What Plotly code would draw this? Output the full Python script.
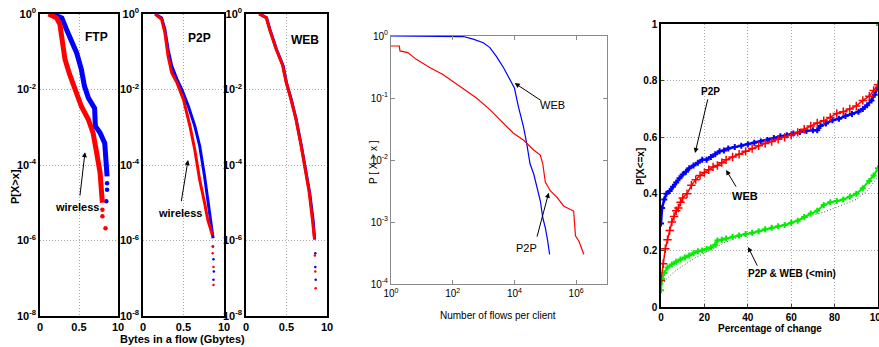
import plotly.graph_objects as go

W, H = 879, 347

# ---------------- data ----------------
# Panels 1-3: CCDF of bytes per flow (Gbytes), wired (blue) vs wireless (red)
ftp_wired_x = [0.15, 0.28, 0.34, 0.40, 0.47, 0.53, 0.57, 0.62, 0.70, 0.71, 0.77, 0.83, 0.85, 0.86]
ftp_wired_y = [1.0, 0.79, 0.39, 0.19, 0.093, 0.034, 0.0123, 0.006, 0.0032, 0.00107, 7.1e-4, 3.8e-4, 9e-5, 5e-5]
ftp_wired_tail_x = [0.86, 0.86, 0.85]
ftp_wired_tail_y = [3.3e-5, 2.2e-5, 1.1e-5]
ftp_wless_x = [0.11, 0.21, 0.255, 0.277, 0.32, 0.38, 0.45, 0.53, 0.62, 0.68, 0.72, 0.77, 0.79, 0.80]
ftp_wless_y = [1.0, 0.79, 0.54, 0.21, 0.063, 0.025, 0.01, 0.0036, 0.0016, 7.1e-4, 2.5e-4, 6.3e-5, 1.8e-5, 1e-5]
ftp_wless_tail_x = [0.80, 0.80, 0.84]
ftp_wless_tail_y = [6.5e-6, 4.4e-6, 2.1e-6]

p2p_wired_x = [0.15, 0.23, 0.27, 0.31, 0.355, 0.42, 0.48, 0.56, 0.64, 0.70, 0.76, 0.80, 0.845, 0.865]
p2p_wired_y = [1.0, 0.79, 0.39, 0.115, 0.042, 0.0186, 0.01, 0.0036, 0.00107, 3.2e-4, 5e-5, 1.2e-5, 2.3e-6, 1.15e-6]
p2p_wired_tail_x = [0.865, 0.87, 0.875, 0.87]
p2p_wired_tail_y = [6.9e-7, 3.2e-7, 1.5e-7, 9.1e-8]
p2p_wless_x = [0.15, 0.23, 0.27, 0.31, 0.355, 0.42, 0.50, 0.58, 0.64, 0.70, 0.76, 0.80, 0.857]
p2p_wless_y = [1.0, 0.72, 0.32, 0.076, 0.0275, 0.015, 0.0054, 0.00107, 2.5e-4, 4e-5, 1e-5, 3.5e-6, 1.4e-6]
p2p_wless_tail_x = [0.86, 0.86, 0.87, 0.87]
p2p_wless_tail_y = [6.9e-7, 4.6e-7, 2e-7, 6.6e-8]

web_wired_x = [0.17, 0.254, 0.295, 0.377, 0.459, 0.50, 0.56, 0.62, 0.684, 0.746, 0.787, 0.828, 0.848]
web_wired_y = [1.0, 0.79, 0.39, 0.115, 0.042, 0.015, 0.0054, 0.0016, 3.2e-4, 6.3e-5, 1.8e-5, 3.5e-6, 1.05e-6]
web_wired_tail_x = [0.856, 0.856, 0.86]
web_wired_tail_y = [4.6e-7, 2e-7, 9.1e-8]
web_wless_x = [0.16, 0.25, 0.29, 0.37, 0.45, 0.495, 0.55, 0.615, 0.68, 0.74, 0.78, 0.82, 0.845]
web_wless_y = [1.0, 0.8, 0.4, 0.12, 0.045, 0.016, 0.006, 0.0017, 3.3e-4, 6.5e-5, 1.9e-5, 3.6e-6, 1.1e-6]
web_wless_tail_x = [0.85, 0.855, 0.86]
web_wless_tail_y = [4e-7, 1.5e-7, 5.4e-8]

# Panel 4: CCDF of number of flows per client
flows_web_x = [1, 18, 220, 460, 980, 1600, 2600, 4400, 7200, 1e4, 13500, 19500, 25000, 32000,
               42000, 56000, 69000, 83000, 1e5, 120000, 138000]
flows_web_y = [1.0, 1.0, 0.98, 0.89, 0.78, 0.65, 0.47, 0.31, 0.2, 0.145, 0.072, 0.035, 0.0186,
               0.0087, 0.006, 0.0032, 0.0022, 0.00117, 8.1e-4, 4.9e-4, 3.0e-4]
flows_p2p_x = [1, 1.86, 1.95, 3.5, 6.6, 18, 48, 100, 220, 590, 1600, 4400, 9300, 19500, 42000,
               69000, 83000, 1e5, 145000, 240000, 400000, 830000, 950000, 1.23e6, 1.78e6]
flows_p2p_y = [0.69, 0.69, 0.575, 0.54, 0.42, 0.31, 0.24, 0.186, 0.145, 0.1, 0.065, 0.039, 0.027,
               0.021, 0.0145, 0.012, 0.0087, 0.0044, 0.0032, 0.0025, 0.0018, 0.0015, 6e-4, 4.9e-4, 3.0e-4]

# Panel 5: CDF of percentage of change
chg_p2p_x = [0, 0.5, 1.5, 2.5, 4, 5.5, 7, 8.5, 10, 11.5, 13, 15, 17, 19, 21, 23, 25, 27, 29, 31, 34,
             37, 40, 43, 46, 49, 52, 55, 58, 61, 64, 67, 70, 72, 73.5, 76, 79, 82, 85, 88, 91, 93,
             95, 97, 98.5, 100]
chg_p2p_y = [0.295, 0.35, 0.38, 0.40, 0.41, 0.425, 0.44, 0.455, 0.468, 0.478, 0.49, 0.50, 0.51, 0.52,
             0.52, 0.53, 0.54, 0.55, 0.553, 0.56, 0.565, 0.57, 0.575, 0.58, 0.585, 0.59, 0.597, 0.603,
             0.607, 0.613, 0.618, 0.622, 0.625, 0.625, 0.64, 0.648, 0.66, 0.665, 0.675, 0.682, 0.69,
             0.70, 0.713, 0.73, 0.75, 0.775]
chg_web_x = [0, 1, 2, 3, 4, 5, 6, 7, 8, 9, 10, 12, 14, 16, 18, 20, 22, 24, 26, 28, 30, 33, 36, 39,
             42, 45, 48, 51, 54, 57, 60, 63, 66, 69, 72, 75, 78, 81, 84, 87, 90, 93, 96, 98, 100]
chg_web_y = [0.094, 0.153, 0.206, 0.238, 0.27, 0.30, 0.32, 0.34, 0.35, 0.37, 0.385, 0.40, 0.43, 0.45,
             0.465, 0.475, 0.485, 0.495, 0.50, 0.51, 0.52, 0.53, 0.54, 0.55, 0.56, 0.57, 0.578, 0.585,
             0.593, 0.60, 0.607, 0.617, 0.628, 0.64, 0.65, 0.658, 0.67, 0.684, 0.69, 0.70, 0.71, 0.73,
             0.745, 0.765, 0.785]
chg_min_x = [0, 0.5, 1.5, 3, 5, 7, 9, 11, 13, 15, 17, 19, 21, 23, 25, 26, 28, 30, 33, 36, 39, 42, 45,
             48, 51, 54, 57, 60, 63, 66, 69, 72, 75, 78, 81, 84, 87, 90, 93, 96, 98, 100]
chg_min_y = [0.059, 0.10, 0.12, 0.14, 0.15, 0.16, 0.168, 0.175, 0.182, 0.19, 0.197, 0.20, 0.205, 0.21,
             0.22, 0.235, 0.238, 0.242, 0.248, 0.253, 0.258, 0.262, 0.268, 0.275, 0.28, 0.285, 0.29,
             0.298, 0.305, 0.318, 0.33, 0.34, 0.36, 0.37, 0.375, 0.38, 0.39, 0.40, 0.42, 0.445, 0.465, 0.49]
chg_min_end_x = [100]
chg_min_end_y = [1.0]
chg_ref_x = [0, 2, 4, 7, 10, 13, 16, 20, 25, 30, 35, 40, 45, 50, 55, 60, 65, 70, 75, 80, 85, 90, 95, 100]
chg_ref_y = [0.071, 0.095, 0.11, 0.13, 0.145, 0.16, 0.175, 0.19, 0.21, 0.23, 0.245, 0.255, 0.265,
             0.275, 0.285, 0.295, 0.31, 0.325, 0.335, 0.35, 0.365, 0.38, 0.41, 0.46]

log8_vals = [1e-8, 1e-6, 1e-4, 1e-2, 1]
log8_text = ['10<sup>-8</sup>', '10<sup>-6</sup>', '10<sup>-4</sup>', '10<sup>-2</sup>', '10<sup>0</sup>']
gb_vals = [0, 0.5, 1]
gb_text = ['0', '0.5', '10']
flows_xvals = [1, 100, 1e4, 1e6]
flows_xtext = ['10<sup>0</sup>', '10<sup>2</sup>', '10<sup>4</sup>', '10<sup>6</sup>']
flows_yvals = [1e-4, 1e-3, 1e-2, 1e-1, 1]
flows_ytext = ['10<sup>-4</sup>', '10<sup>-3</sup>', '10<sup>-2</sup>', '10<sup>-1</sup>', '10<sup>0</sup>']
pct_vals = [0, 20, 40, 60, 80, 100]
pct_text = ['0', '20', '40', '60', '80', '100']
prob_vals = [0, 0.2, 0.4, 0.6, 0.8, 1]
prob_text = ['0', '0.2', '0.4', '0.6', '0.8', '1']

# ---------------- styling ----------------
BLUE, RED, GREEN = '#0000ff', '#ff0000', '#00ee00'
BOLD = 'Liberation Sans'
NARROW = 'Liberation Sans Narrow, Liberation Sans'

def dom_x(a, b):
    return [a / W, b / W]

def dom_y(t, b):
    return [1 - b / H, 1 - t / H]

fig = go.Figure()

panels = [
    ('x', 'y', ftp_wired_x, ftp_wired_y, ftp_wired_tail_x, ftp_wired_tail_y,
     ftp_wless_x, ftp_wless_y, ftp_wless_tail_x, ftp_wless_tail_y, 5),
    ('x2', 'y2', p2p_wired_x, p2p_wired_y, p2p_wired_tail_x, p2p_wired_tail_y,
     p2p_wless_x, p2p_wless_y, p2p_wless_tail_x, p2p_wless_tail_y, 3),
    ('x3', 'y3', web_wired_x, web_wired_y, web_wired_tail_x, web_wired_tail_y,
     web_wless_x, web_wless_y, web_wless_tail_x, web_wless_tail_y, 3),
]
for xa, ya, bx, by, btx, bty, rx, ry, rtx, rty, lw in panels:
    fig.add_trace(go.Scatter(x=bx, y=by, mode='lines', line=dict(color=BLUE, width=lw),
                             xaxis=xa, yaxis=ya, showlegend=False))
    fig.add_trace(go.Scatter(x=btx, y=bty, mode='markers', marker=dict(color=BLUE, size=lw - 0.5),
                             xaxis=xa, yaxis=ya, showlegend=False))
    fig.add_trace(go.Scatter(x=rx, y=ry, mode='lines', line=dict(color=RED, width=lw),
                             xaxis=xa, yaxis=ya, showlegend=False))
    fig.add_trace(go.Scatter(x=rtx, y=rty, mode='markers', marker=dict(color=RED, size=lw - 0.5),
                             xaxis=xa, yaxis=ya, showlegend=False))

fig.add_trace(go.Scatter(x=flows_web_x, y=flows_web_y, mode='lines', line=dict(color=BLUE, width=1.2),
                         xaxis='x4', yaxis='y4', showlegend=False))
fig.add_trace(go.Scatter(x=flows_p2p_x, y=flows_p2p_y, mode='lines', line=dict(color=RED, width=1.2),
                         xaxis='x4', yaxis='y4', showlegend=False))

fig.add_trace(go.Scatter(x=chg_ref_x, y=chg_ref_y, mode='lines', line=dict(color='#555555', width=1, dash='1px,2px'),
                         xaxis='x5', yaxis='y5', showlegend=False))
fig.add_trace(go.Scatter(x=chg_min_x, y=chg_min_y, mode='lines+markers', line=dict(color=GREEN, width=2),
                         marker=dict(color=GREEN, size=5, symbol='cross'),
                         xaxis='x5', yaxis='y5', showlegend=False))
fig.add_trace(go.Scatter(x=chg_min_end_x, y=chg_min_end_y, mode='markers',
                         marker=dict(color=GREEN, size=4, symbol='square'),
                         xaxis='x5', yaxis='y5', showlegend=False, cliponaxis=False))
fig.add_trace(go.Scatter(x=chg_p2p_x, y=chg_p2p_y, mode='lines+markers', line=dict(color=BLUE, width=2.5),
                         marker=dict(color=BLUE, size=5, symbol='cross'),
                         xaxis='x5', yaxis='y5', showlegend=False))
fig.add_trace(go.Scatter(x=chg_web_x, y=chg_web_y, mode='lines+markers', line=dict(color=RED, width=1.5),
                         marker=dict(color=RED, size=6, symbol='cross-thin', line=dict(color=RED, width=1.5)),
                         xaxis='x5', yaxis='y5', showlegend=False))

boldfont = dict(family=BOLD, size=11, color='black', weight='bold')
common = dict(showline=True, linecolor='black', linewidth=1.5, mirror=True, zeroline=False,
              showgrid=True, gridcolor='#a8a8a8', griddash='1px,2px', gridwidth=1, ticks='',
              tickfont=boldfont, automargin=False, ticklabeloverflow='allow')

layout = dict(template='none', width=W, height=H, margin=dict(l=0, r=0, t=0, b=0, pad=0),
              paper_bgcolor='white', plot_bgcolor='white', showlegend=False)

for i, (a, b) in enumerate([(40, 118), (143, 224), (246, 327)]):
    sx = '' if i == 0 else str(i + 1)
    layout['xaxis' + sx] = dict(common, domain=dom_x(a, b), range=[0, 1], tickvals=gb_vals,
                                ticktext=gb_text, anchor='y' + sx)
    layout['yaxis' + sx] = dict(common, domain=dom_y(14, 316), type='log', range=[-8, 0],
                                tickvals=log8_vals, ticktext=log8_text, anchor='x' + sx)

thin = dict(family=NARROW, size=10, color='black')
layout['xaxis4'] = dict(domain=dom_x(391, 607), type='log', range=[0, 7], tickvals=flows_xvals,
                        ticktext=flows_xtext, showline=True, linecolor='#8a8a8a', linewidth=1,
                        mirror='ticks', ticks='inside', ticklen=4, tickcolor='#8a8a8a',
                        showgrid=False, zeroline=False, tickfont=thin, anchor='y4', automargin=False)
layout['yaxis4'] = dict(domain=dom_y(36, 284), type='log', range=[-4, 0], tickvals=flows_yvals,
                        ticktext=flows_ytext, showline=True, linecolor='#8a8a8a', linewidth=1,
                        mirror='ticks', ticks='inside', ticklen=4, tickcolor='#8a8a8a',
                        showgrid=False, zeroline=False, tickfont=thin, anchor='x4', automargin=False)

font5 = dict(family=BOLD, size=10, color='black', weight='bold')
layout['xaxis5'] = dict(common, domain=dom_x(661, 878), range=[0, 100], tickvals=pct_vals,
                        ticktext=pct_text, ticks='inside', ticklen=3, tickfont=font5, anchor='y5')
layout['yaxis5'] = dict(common, domain=dom_y(24, 307), range=[0, 1], tickvals=prob_vals,
                        ticktext=prob_text, ticks='inside', ticklen=3, tickfont=font5, anchor='x5')

fig.update_layout(**layout)

ann = []

def text(x, y, s, xr, yr, size=11, fam=BOLD, weight='bold'):
    ann.append(dict(x=x, y=y, xref=xr, yref=yr, text=s, showarrow=False,
                    xanchor='center', yanchor='middle',
                    font=dict(family=fam, size=size, color='black', weight=weight)))

def arrow(x, y, ax, ay, xr, yr):
    ann.append(dict(x=x, y=y, ax=ax, ay=ay, xref=xr, yref=yr, axref=xr, ayref=yr, text='',
                    showarrow=True, arrowhead=2, arrowsize=1, arrowwidth=1, arrowcolor='black'))

# panels 1-3 (log y positions given as log10 values)
text(0.72, -0.61, 'FTP', 'x', 'y', 12)
text(0.70, -0.64, 'P2P', 'x2', 'y2', 12)
text(0.73, -0.69, 'WEB', 'x3', 'y3', 12)
text(0.47, -5.1, 'wireless', 'x', 'y', 11)
arrow(0.577, -3.66, 0.51, -4.85, 'x', 'y')
text(0.457, -5.27, 'wireless', 'x2', 'y2', 11)
arrow(0.556, -3.87, 0.47, -5.0, 'x2', 'y2')
# panel 4 (log x and log y)
text(5.24, -1.11, 'WEB', 'x4', 'y4', 11, NARROW, 'normal')
arrow(4.01, -0.76, 4.92, -1.06, 'x4', 'y4')
text(4.40, -3.42, 'P2P', 'x4', 'y4', 11, NARROW, 'normal')
arrow(5.11, -2.53, 4.72, -3.26, 'x4', 'y4')
# panel 5
text(23.0, 0.763, 'P2P', 'x5', 'y5', 10)
arrow(15.7, 0.544, 21.7, 0.739, 'x5', 'y5')
text(38.7, 0.392, 'WEB', 'x5', 'y5', 11)
arrow(30.0, 0.484, 35.0, 0.42, 'x5', 'y5')
text(60.4, 0.117, 'P2P &amp; WEB (&lt;min)', 'x5', 'y5', 10)
arrow(40.1, 0.212, 44.7, 0.141, 'x5', 'y5')

# axis titles
def ptitle(px, py, s, size, angle=0, fam=BOLD, weight='bold'):
    ann.append(dict(x=px / W, y=1 - py / H, xref='paper', yref='paper', text=s, showarrow=False,
                    xanchor='center', yanchor='middle', textangle=angle,
                    font=dict(family=fam, size=size, color='black', weight=weight)))

ptitle(15, 187, 'P[X&gt;x]', 11, -90)
ptitle(182, 339, 'Bytes in a flow (Gbytes)', 11)
ptitle(373, 162, 'P [ X &gt; x ]', 10, -90, NARROW, 'normal')
ptitle(498, 315, 'Number of flows per client', 10, 0, NARROW, 'normal')
ptitle(640, 167, 'P[X&lt;=x]', 10, -90)
ptitle(770, 328, 'Percentage of change', 10, 0, NARROW)

fig.update_layout(annotations=ann)
fig.write_html('out.html', config={'displayModeBar': False},
               post_script="document.body.style.margin='0';document.body.style.overflow='hidden';")
